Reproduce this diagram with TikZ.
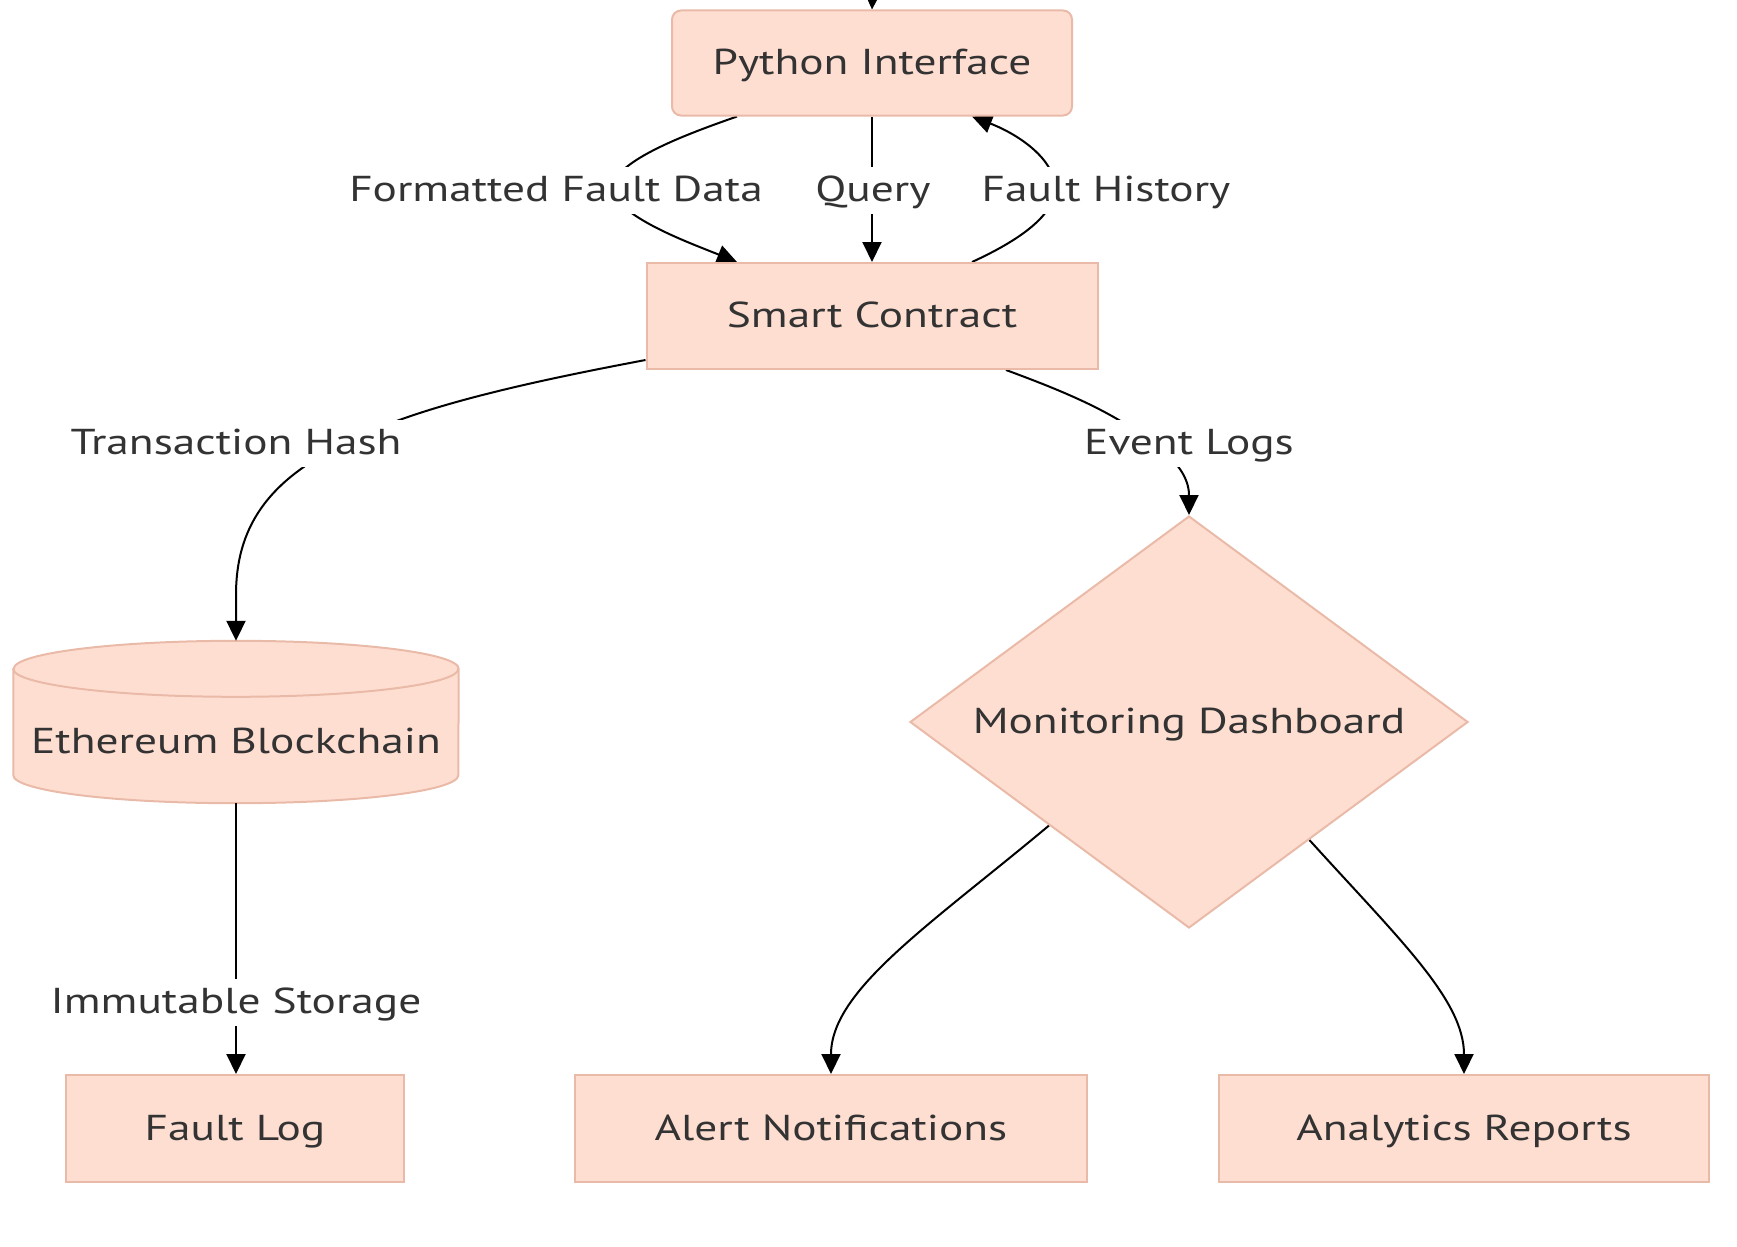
\documentclass[tikz,border=0pt]{standalone}
\usepackage{fontspec}
\setmainfont[FakeStretch=1.26]{PT Sans}
\usetikzlibrary{arrows.meta,shapes.geometric,calc,backgrounds}
\definecolor{nodefill}{RGB}{255,222,210}
\definecolor{nodeline}{RGB}{234,186,168}
\definecolor{txt}{RGB}{51,51,51}
\begin{document}
\begin{tikzpicture}[x=1pt,y=1pt,
  every node/.style={font=\fontsize{36}{42}\selectfont, text=txt, text height=28pt, text depth=5pt},
  box/.style={draw=nodeline, fill=nodefill, line width=2pt, inner sep=0pt},
  lbl/.style={fill=white, inner sep=7pt},
  edge/.style={draw=black, line width=2pt},
  arr/.style={edge, -{Triangle[length=20pt,width=19pt]}}]
\path[use as bounding box] (0,0) rectangle (1737,-1247);

% nodes
\node[box, rounded corners=9pt, minimum width=400pt, minimum height=105pt] (pi) at (872,-63) {Python Interface};
\node[box, minimum width=451pt, minimum height=106pt] (sc) at (872,-316) {Smart Contract};
\node[inner sep=0pt, minimum width=445pt, text height=112pt, text depth=50pt] (eth) at (236,-722) {Ethereum Blockchain};
\node[box, diamond, aspect=1, inner xsep=-60pt, inner ysep=0pt, minimum width=558pt, minimum height=412pt] (md) at (1189,-722) {Monitoring Dashboard};
\node[box, minimum width=338pt, minimum height=107pt] (fl) at (235,-1128.5) {Fault Log};
\node[box, minimum width=512pt, minimum height=107pt] (an) at (831,-1128.5) {Alert Notifications};
\node[box, minimum width=490pt, minimum height=107pt] (ar) at (1464,-1128.5) {Analytics Reports};

% edge labels
\node[lbl] (lffd) at (556,-190) {Formatted Fault Data};
\node[lbl] (lq) at (873,-190) {Query};
\node[lbl] (lfh) at (1106,-190) {Fault History};
\node[lbl] (lth) at (236,-443) {Transaction Hash};
\node[lbl] (lel) at (1189,-443) {Event Logs};
\node[lbl] (lis) at (236,-1002) {Immutable Storage};

\coordinate (topin) at (873,20);

\begin{scope}[on background layer]
  % cylinder
  \path[box] ([yshift=-28pt]eth.north west) -- ([yshift=28pt]eth.south west)
    arc[start angle=180, end angle=360, x radius=222.5pt, y radius=28pt]
    -- ([yshift=-28pt]eth.north east)
    arc[start angle=0, end angle=180, x radius=222.5pt, y radius=28pt] -- cycle;
  \draw[nodeline, line width=2pt] ([yshift=-28pt]eth.north west)
    arc[start angle=180, end angle=360, x radius=222.5pt, y radius=28pt];

  % edges
  \draw[arr] (topin) -- (pi.north);
  \draw[arr] ([xshift=-135pt]pi.south) .. controls (690,-133) and (615,-160) .. (612,-188)
    .. controls (615,-216) and (690,-243) .. ([xshift=-135pt]sc.north);
  \draw[arr] (pi.south) -- (sc.north);
  \draw[arr] ([xshift=100pt]sc.north) .. controls (1020,-240) and (1055,-215) .. (1055,-188)
    .. controls (1055,-160) and (1020,-135) .. ([xshift=100pt]pi.south);
  \draw[arr] ([yshift=-44pt]sc.west) .. controls (540,-380) and (420,-405) .. (350,-441)
    .. controls (265,-480) and (236,-530) .. (236,-595) -- (eth.north);
  \draw[arr] ([xshift=134pt]sc.south) .. controls (1060,-390) and (1110,-410) .. (1150,-441)
    .. controls (1185,-465) and (1189,-485) .. (md.north);
  \draw[arr] (eth.south) -- (eth.south |- fl.north);
  \draw[arr] ($(md.west)!0.5!(md.south)$) .. controls (930,-925) and (831,-990) .. (an.north);
  \draw[arr] ($(md.south)!0.43!(md.east)$) .. controls (1400,-940) and (1464,-1000) .. (ar.north);
\end{scope}
\end{tikzpicture}
\end{document}
